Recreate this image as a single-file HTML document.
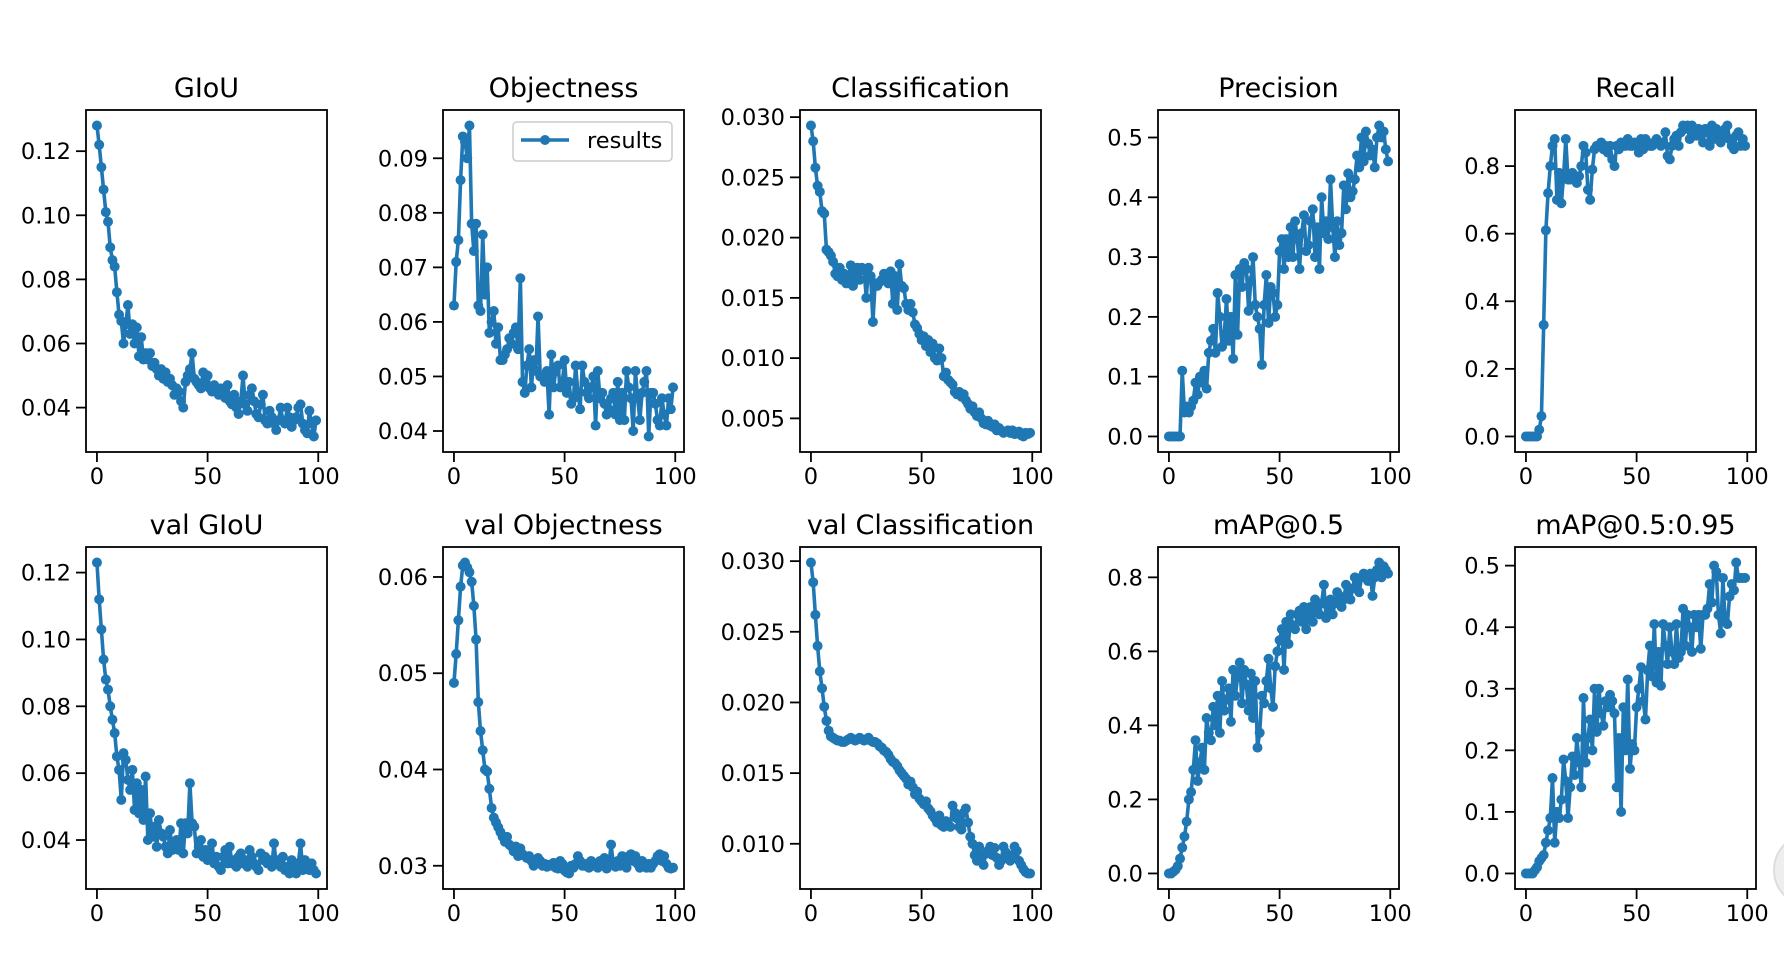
<!DOCTYPE html>
<html><head><meta charset="utf-8"><style>
html,body{margin:0;padding:0;background:#fff;}
svg{display:block;font-family:"DejaVu Sans","Liberation Sans",sans-serif;}
</style></head><body>
<svg id="fig" width="1784" height="974" viewBox="0 0 1784 974" xmlns="http://www.w3.org/2000/svg">
<rect width="1784" height="974" fill="#fff"/>
<circle cx="1810" cy="870" r="36" fill="#eeeeee" stroke="#dddddd" stroke-width="2"/>
</svg>
<script>
const titles = ["GIoU","Objectness","Classification","Precision","Recall","val GIoU","val Objectness","val Classification","mAP@0.5","mAP@0.5:0.95"];
const giou = [0.128,0.122,0.115,0.108,0.101,0.098,0.090,0.086,0.084,0.076,
0.069,0.067,0.060,0.066,0.072,0.063,0.066,0.060,0.065,0.056,
0.062,0.055,0.057,0.055,0.057,0.053,0.054,0.052,0.050,0.052,
0.049,0.051,0.048,0.049,0.047,0.044,0.046,0.045,0.042,0.040,
0.048,0.050,0.052,0.057,0.049,0.048,0.047,0.046,0.051,0.048,
0.050,0.046,0.045,0.047,0.045,0.044,0.046,0.044,0.043,0.047,
0.042,0.041,0.044,0.040,0.038,0.042,0.050,0.041,0.039,0.044,
0.046,0.042,0.038,0.037,0.041,0.044,0.036,0.035,0.039,0.037,
0.035,0.033,0.036,0.040,0.036,0.035,0.040,0.037,0.034,0.036,
0.037,0.040,0.041,0.035,0.033,0.032,0.039,0.035,0.031,0.036];
const objectness = [0.063,0.071,0.075,0.086,0.094,0.093,0.090,0.096,0.078,0.073,
0.078,0.063,0.062,0.076,0.065,0.070,0.058,0.060,0.062,0.056,
0.059,0.053,0.053,0.054,0.055,0.057,0.056,0.058,0.059,0.055,
0.068,0.049,0.047,0.052,0.055,0.048,0.053,0.051,0.061,0.050,
0.050,0.049,0.051,0.043,0.054,0.048,0.051,0.052,0.048,0.049,
0.053,0.047,0.049,0.045,0.046,0.052,0.047,0.044,0.052,0.049,
0.047,0.046,0.048,0.050,0.041,0.051,0.046,0.047,0.045,0.043,
0.044,0.046,0.047,0.043,0.049,0.042,0.047,0.042,0.051,0.048,
0.046,0.040,0.051,0.046,0.042,0.047,0.049,0.051,0.039,0.047,
0.047,0.045,0.042,0.041,0.046,0.043,0.041,0.046,0.044,0.048];
const classification = [0.0293,0.0280,0.0258,0.0243,0.0238,0.0222,0.0220,0.0190,0.0188,0.0185,
0.0180,0.0170,0.0168,0.0175,0.0165,0.0170,0.0162,0.0168,0.0177,0.0160,
0.0172,0.0175,0.0165,0.0175,0.0173,0.0150,0.0175,0.0168,0.0130,0.0162,
0.0160,0.0163,0.0165,0.0170,0.0165,0.0162,0.0172,0.0145,0.0168,0.0140,
0.0178,0.0160,0.0158,0.0145,0.0140,0.0145,0.0138,0.0128,0.0125,0.0120,
0.0115,0.0118,0.0110,0.0115,0.0105,0.0112,0.0100,0.0098,0.0108,0.0100,
0.0085,0.0088,0.0082,0.0080,0.0078,0.0072,0.0070,0.0072,0.0068,0.0070,
0.0065,0.0062,0.0058,0.0060,0.0055,0.0052,0.0055,0.0050,0.0046,0.0045,
0.0048,0.0044,0.0043,0.0045,0.0040,0.0042,0.0040,0.0038,0.0039,0.0040,
0.0038,0.0040,0.0037,0.0038,0.0039,0.0036,0.0035,0.0038,0.0037,0.0038];
const precision = [0,0,0,0,0,0,0.11,0.04,0.05,0.04,
0.05,0.06,0.09,0.07,0.10,0.09,0.11,0.08,0.14,0.16,
0.18,0.14,0.24,0.20,0.15,0.17,0.23,0.16,0.20,0.13,
0.27,0.17,0.28,0.25,0.29,0.28,0.21,0.26,0.30,0.22,
0.20,0.18,0.12,0.22,0.27,0.19,0.25,0.24,0.20,0.22,
0.31,0.33,0.28,0.33,0.30,0.35,0.30,0.36,0.33,0.28,
0.34,0.37,0.31,0.32,0.36,0.38,0.30,0.35,0.28,0.40,
0.34,0.36,0.33,0.43,0.35,0.30,0.36,0.32,0.34,0.42,
0.38,0.44,0.40,0.41,0.43,0.47,0.45,0.50,0.46,0.51,
0.49,0.47,0.48,0.45,0.50,0.52,0.50,0.51,0.48,0.46];
const recall = [0,0,0,0,0,0,0.02,0.06,0.33,0.61,
0.72,0.80,0.86,0.88,0.70,0.78,0.69,0.77,0.88,0.76,
0.76,0.78,0.76,0.75,0.77,0.80,0.86,0.84,0.73,0.70,
0.79,0.85,0.86,0.86,0.87,0.85,0.86,0.84,0.86,0.82,
0.80,0.86,0.85,0.87,0.86,0.86,0.88,0.86,0.86,0.87,
0.86,0.84,0.88,0.85,0.88,0.87,0.86,0.86,0.87,0.88,
0.87,0.86,0.87,0.90,0.83,0.82,0.86,0.88,0.89,0.86,
0.90,0.92,0.91,0.92,0.88,0.92,0.90,0.89,0.91,0.90,
0.87,0.91,0.90,0.86,0.92,0.88,0.91,0.90,0.87,0.89,
0.91,0.92,0.88,0.86,0.85,0.89,0.90,0.86,0.88,0.86];
const valGiou = [0.123,0.112,0.103,0.094,0.088,0.085,0.080,0.076,0.072,0.065,
0.061,0.052,0.066,0.064,0.058,0.055,0.061,0.049,0.057,0.048,
0.055,0.046,0.059,0.040,0.048,0.041,0.044,0.038,0.046,0.042,
0.041,0.038,0.036,0.043,0.037,0.039,0.040,0.037,0.045,0.036,
0.045,0.042,0.057,0.045,0.044,0.036,0.038,0.040,0.035,0.037,
0.034,0.036,0.039,0.033,0.035,0.032,0.031,0.035,0.037,0.033,
0.038,0.033,0.034,0.032,0.035,0.036,0.033,0.034,0.032,0.037,
0.035,0.033,0.032,0.031,0.036,0.034,0.035,0.033,0.034,0.032,
0.039,0.033,0.034,0.032,0.035,0.031,0.032,0.030,0.034,0.032,
0.030,0.033,0.039,0.031,0.034,0.032,0.031,0.033,0.031,0.030];
const valObjectness = [0.049,0.052,0.0555,0.059,0.0612,0.0615,0.061,0.0605,0.0595,0.057,
0.0535,0.047,0.044,0.042,0.040,0.0398,0.038,0.036,0.035,0.0345,
0.034,0.0335,0.033,0.0325,0.033,0.0322,0.032,0.0315,0.032,0.031,
0.0318,0.0312,0.031,0.0308,0.031,0.0305,0.030,0.0302,0.0308,0.0305,
0.030,0.0302,0.0299,0.0301,0.030,0.0303,0.0298,0.0297,0.0305,0.0302,
0.0295,0.0293,0.0292,0.030,0.0298,0.0302,0.031,0.0305,0.030,0.0300,
0.0302,0.0298,0.0305,0.030,0.0302,0.0298,0.0305,0.0303,0.0308,0.0297,
0.030,0.0322,0.0302,0.0299,0.0305,0.030,0.031,0.0302,0.0298,0.031,
0.0312,0.0305,0.031,0.0302,0.0298,0.0305,0.030,0.0298,0.0302,0.0298,
0.0302,0.0305,0.031,0.0312,0.0305,0.031,0.0302,0.0298,0.0297,0.0298];
const valClassification = [0.0299,0.0285,0.0262,0.0240,0.0222,0.0210,0.0197,0.0187,0.0180,0.0176,
0.0175,0.0174,0.0173,0.0173,0.0172,0.0172,0.0173,0.0174,0.0175,0.0174,
0.0173,0.0174,0.0175,0.0174,0.0173,0.0174,0.0175,0.0173,0.0172,0.0172,
0.0171,0.0169,0.0168,0.0166,0.0165,0.0163,0.0160,0.0158,0.0157,0.0155,
0.0152,0.0150,0.0148,0.0146,0.0142,0.0144,0.0140,0.0135,0.0137,0.0132,
0.0130,0.0128,0.0130,0.0125,0.0123,0.0120,0.0118,0.0115,0.0120,0.0113,
0.0112,0.0116,0.0113,0.0112,0.0127,0.0122,0.0118,0.0112,0.0110,0.0122,
0.0125,0.0115,0.0105,0.0100,0.0092,0.0088,0.0098,0.0090,0.0085,0.0093,
0.0095,0.0098,0.0092,0.0097,0.0090,0.0085,0.0088,0.0098,0.0094,0.0090,
0.0088,0.0092,0.0098,0.0095,0.0088,0.0085,0.0082,0.0080,0.0079,0.0079];
const map50 = [0,0,0.005,0.01,0.02,0.04,0.07,0.10,0.14,0.20,
0.22,0.28,0.36,0.25,0.30,0.34,0.28,0.42,0.38,0.36,
0.45,0.40,0.48,0.38,0.52,0.44,0.47,0.50,0.41,0.55,
0.48,0.53,0.57,0.46,0.55,0.51,0.44,0.54,0.42,0.52,
0.34,0.38,0.48,0.46,0.52,0.58,0.50,0.45,0.56,0.60,
0.63,0.66,0.55,0.68,0.62,0.70,0.67,0.66,0.70,0.71,
0.68,0.72,0.66,0.70,0.72,0.68,0.74,0.71,0.70,0.73,
0.78,0.69,0.72,0.74,0.70,0.73,0.76,0.75,0.72,0.74,
0.78,0.76,0.74,0.77,0.80,0.79,0.76,0.80,0.81,0.80,
0.79,0.81,0.75,0.80,0.82,0.84,0.80,0.83,0.82,0.81];
const map5095 = [0,0,0,0,0.005,0.01,0.02,0.025,0.03,0.05,
0.07,0.09,0.155,0.05,0.10,0.09,0.12,0.185,0.15,0.09,
0.14,0.19,0.16,0.22,0.18,0.14,0.285,0.18,0.22,0.25,
0.20,0.30,0.23,0.30,0.26,0.24,0.28,0.27,0.29,0.28,
0.26,0.14,0.22,0.10,0.27,0.20,0.315,0.17,0.21,0.20,
0.27,0.30,0.335,0.28,0.25,0.33,0.37,0.32,0.405,0.31,
0.36,0.305,0.405,0.37,0.34,0.40,0.36,0.34,0.405,0.35,
0.36,0.43,0.37,0.42,0.40,0.36,0.42,0.40,0.42,0.365,
0.42,0.42,0.43,0.47,0.44,0.50,0.49,0.42,0.39,0.48,
0.41,0.405,0.45,0.47,0.46,0.505,0.48,0.48,0.48,0.48];
const xTicks = [0,50,100];
const yTicksGiou = ["0.04","0.06","0.08","0.10","0.12"];
const yTicksObj = ["0.04","0.05","0.06","0.07","0.08","0.09"];
const yTicksCls = ["0.005","0.010","0.015","0.020","0.025","0.030"];
const yTicksPrec = ["0.0","0.1","0.2","0.3","0.4","0.5"];
const yTicksRecall = ["0.0","0.2","0.4","0.6","0.8"];
const yTicksValGiou = ["0.04","0.06","0.08","0.10","0.12"];
const yTicksValObj = ["0.03","0.04","0.05","0.06"];
const yTicksValCls = ["0.010","0.015","0.020","0.025","0.030"];
const yTicksMap = ["0.0","0.2","0.4","0.6","0.8"];
const yTicksMap95 = ["0.0","0.1","0.2","0.3","0.4","0.5"];

const series = [giou,objectness,classification,precision,recall,valGiou,valObjectness,valClassification,map50,map5095];
const yTickSets = [yTicksGiou,yTicksObj,yTicksCls,yTicksPrec,yTicksRecall,yTicksValGiou,yTicksValObj,yTicksValCls,yTicksMap,yTicksMap95];

const NS = "http://www.w3.org/2000/svg";
const svg = document.getElementById('fig');
const colLeft = [86,443,800,1158,1515];
const rowTop = [110,547];
const W = 241, H = 342;
const C = "#1f77b4";
function mk(tag, attrs, parent){
  const e = document.createElementNS(NS, tag);
  for (const k in attrs) e.setAttribute(k, attrs[k]);
  parent.appendChild(e);
  return e;
}
function slug(s){return s.toLowerCase().replace(/[^a-z0-9]+/g,'-').replace(/^-|-$/g,'');}

series.forEach((data, p) => {
  const L = colLeft[p % 5], T = rowTop[Math.floor(p / 5)];
  const g = mk('g', {}, svg);
  
  
  const n = data.length;
  const xmin = -(n - 1) * 0.05, xmax = (n - 1) * 1.05;
  const dmin = Math.min(...data), dmax = Math.max(...data);
  const ymin = dmin - 0.05 * (dmax - dmin), ymax = dmax + 0.05 * (dmax - dmin);
  const sx = v => L + (v - xmin) / (xmax - xmin) * W;
  const sy = v => T + H - (v - ymin) / (ymax - ymin) * H;

  const title = mk('text', {x: L + W / 2, y: T - 13, 'text-anchor': 'middle', 'font-size': 27, fill: '#000'}, g);
  
  
  title.textContent = titles[p];

  let d = '';
  data.forEach((v, i) => { d += (i ? 'L' : 'M') + sx(i).toFixed(2) + ',' + sy(v).toFixed(2); });
  const line = mk('path', {d: d, fill: 'none', stroke: C, 'stroke-width': 3.6, 'stroke-linejoin': 'round'}, g);
  
  
  const dots = mk('g', {fill: C}, g);
  
  
  data.forEach((v, i) => {
    const c = mk('circle', {cx: sx(i).toFixed(2), cy: sy(v).toFixed(2), r: 5}, dots);
    
    
  });

  const frame = mk('rect', {x: L, y: T, width: W, height: H, fill: 'none', stroke: '#000', 'stroke-width': 1.8}, g);
  
  

  xTicks.forEach(t => {
    const x = sx(t);
    const tk = mk('line', {x1: x, x2: x, y1: T + H, y2: T + H + 10, stroke: '#000', 'stroke-width': 1.8}, g);
    
    
    const lb = mk('text', {x: x, y: T + H + 32, 'text-anchor': 'middle', 'font-size': 22.5, fill: '#000'}, g);
    
    
    lb.textContent = t;
  });
  yTickSets[p].forEach(t => {
    const y = sy(parseFloat(t));
    const tk = mk('line', {x1: L - 10, x2: L, y1: y, y2: y, stroke: '#000', 'stroke-width': 1.8}, g);
    
    
    const lb = mk('text', {x: L - 15, y: y + 8, 'text-anchor': 'end', 'font-size': 22.5, fill: '#000'}, g);
    
    
    lb.textContent = t;
  });

  if (p === 1) {
    const lg = mk('g', {}, g);
    
    
    mk('rect', {x: 513, y: 122, width: 159, height: 39, rx: 4, fill: '#fff', 'fill-opacity': 0.8, stroke: '#cccccc', 'stroke-width': 1.5}, lg);
    mk('line', {x1: 521, x2: 569, y1: 140, y2: 140, stroke: C, 'stroke-width': 3.6}, lg);
    mk('circle', {cx: 545, cy: 140, r: 5, fill: C}, lg);
    const lt = mk('text', {x: 587, y: 148, 'font-size': 22.5, fill: '#000'}, lg);
    
    
    lt.textContent = 'results';
  }
});
</script>
</body></html>
